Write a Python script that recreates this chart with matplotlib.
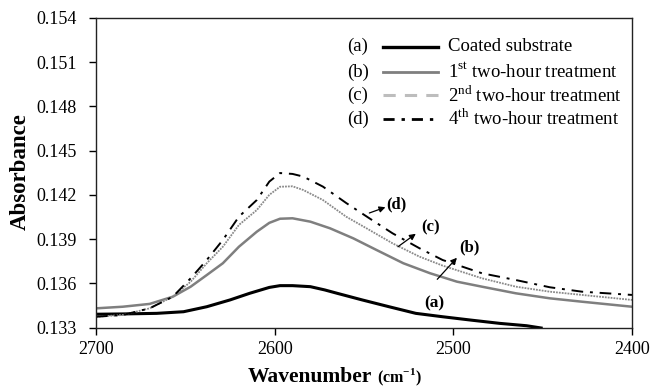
import matplotlib
matplotlib.use("Agg")
import matplotlib.pyplot as plt
from matplotlib.ticker import FixedLocator, FormatStrFormatter

plt.rcParams['font.family'] = ['Liberation Serif', 'DejaVu Serif']
plt.rcParams['mathtext.fontset'] = 'custom'
plt.rcParams['mathtext.rm'] = 'Liberation Serif'
plt.rcParams['mathtext.bf'] = 'Liberation Serif:bold'

# ---- data ----
wn_a = [2700, 2685, 2666, 2651, 2638, 2625, 2614, 2603, 2597, 2590, 2580, 2572,
        2565, 2551, 2536, 2521, 2506, 2490, 2474, 2459, 2450]
abs_a = [0.13390, 0.13392, 0.13396, 0.13407, 0.13441, 0.13487, 0.13532, 0.13572,
         0.13584, 0.13584, 0.13577, 0.13555, 0.13532, 0.13487, 0.13441, 0.13396,
         0.13373, 0.13350, 0.13328, 0.13312, 0.13295]

wn_b = [2700, 2685, 2670, 2657, 2647, 2638, 2629, 2620, 2610, 2603, 2597, 2590,
        2580, 2569, 2556, 2543, 2528, 2513, 2498, 2484, 2465, 2446, 2428, 2400]
abs_b = [0.13430, 0.13441, 0.13460, 0.13509, 0.13577, 0.13656, 0.13736, 0.13848,
         0.13950, 0.14010, 0.14038, 0.14041, 0.14018, 0.13973, 0.13905, 0.13826,
         0.13736, 0.13668, 0.13611, 0.13577, 0.13532, 0.13498, 0.13475, 0.13441]

wn_c = [2700, 2685, 2670, 2657, 2647, 2638, 2629, 2620, 2610, 2603, 2597, 2590,
        2584, 2573, 2560, 2547, 2534, 2519, 2506, 2484, 2465, 2446, 2428, 2400]
abs_c = [0.13373, 0.13385, 0.13430, 0.13509, 0.13611, 0.13736, 0.13848, 0.13996,
         0.14097, 0.14200, 0.14255, 0.14258, 0.14233, 0.14165, 0.14052, 0.13962,
         0.13871, 0.13781, 0.13720, 0.13634, 0.13577, 0.13543, 0.13521, 0.13487]

wn_d = [2700, 2685, 2670, 2657, 2647, 2638, 2629, 2620, 2610, 2603, 2597, 2590,
        2584, 2573, 2560, 2547, 2534, 2519, 2506, 2484, 2465, 2446, 2428, 2400]
abs_d = [0.13373, 0.13385, 0.13430, 0.13509, 0.13634, 0.13758, 0.13894, 0.14052,
         0.14165, 0.14290, 0.14348, 0.14342, 0.14324, 0.14256, 0.14145, 0.14041,
         0.13939, 0.13838, 0.13758, 0.13668, 0.13622, 0.13573, 0.13543, 0.13521]

x_ticks = [2700, 2600, 2500, 2400]
y_ticks = [0.133, 0.136, 0.139, 0.142, 0.145, 0.148, 0.151, 0.154]

legend_tags = ['(a)', '(b)', '(c)', '(d)']
legend_labels = ['Coated substrate',
                 '1$^{\\rm st}$ two-hour treatment',
                 '2$^{\\rm nd}$ two-hour treatment',
                 '4$^{\\rm th}$ two-hour treatment']

# annotation positions: (label, text xy, arrow tail, arrow head)
annots = [('(d)', (2532, 0.14132), (2547, 0.14077), (2538, 0.14116)),
          ('(c)', (2513, 0.13982), (2531, 0.13848), (2521, 0.13936)),
          ('(b)', (2491, 0.13846), (2509, 0.13627), (2498, 0.13773))]
annot_a = ('(a)', (2510.5, 0.13466))

# ---- figure ----
fig = plt.figure(figsize=(6.52, 3.90), dpi=100)
ax = fig.add_axes([96/652, 1 - 327.5/390, 536/652, 309.5/390])

st_a = dict(color='black', lw=2.2)
st_b = dict(color='#7f7f7f', lw=1.8)
st_c = dict(color='#8a8a8a', lw=1.3, ls=(0, (1, 0.6)))
st_d = dict(color='black', lw=1.4, ls=(0, (6, 3.5, 1.5, 3.5)))

ax.plot(wn_a, abs_a, **st_a, solid_capstyle='butt')
ax.plot(wn_b, abs_b, **st_b)
ax.plot(wn_c, abs_c, **st_c)
ax.plot(wn_d, abs_d, **st_d)

ax.set_xlim(2700, 2400)
ax.set_ylim(0.133, 0.154)
ax.xaxis.set_major_locator(FixedLocator(x_ticks))
ax.yaxis.set_major_locator(FixedLocator(y_ticks))
ax.yaxis.set_major_formatter(FormatStrFormatter('%.3f'))
ax.tick_params(direction='out', length=5, width=1, labelsize=13, color='black')
ax.tick_params(axis='x', pad=5)
ax.tick_params(axis='y', pad=9)
for s in ax.spines.values():
    s.set_linewidth(1.0)
    s.set_color('#222222')

# annotations
for lab, txy, tail, head in annots:
    ax.annotate('', xy=head, xytext=tail,
                arrowprops=dict(arrowstyle='-|>', color='black', lw=0.9,
                                mutation_scale=9, shrinkA=0, shrinkB=0))
    ax.text(txy[0], txy[1], lab, fontsize=12, fontweight='bold',
            ha='center', va='center')
ax.text(annot_a[1][0], annot_a[1][1], annot_a[0], fontsize=12.5, fontweight='bold',
        ha='center', va='center')

# legend (manual, no frame)
leg_styles = [dict(color='black', lw=2.4),
              dict(color='#7f7f7f', lw=2.0),
              dict(color='#bdbdbd', lw=2.2, ls=(0, (4, 3))),
              dict(color='black', lw=2.0, ls=(0, (4, 2.5, 1.2, 2.5)))]
row_y = [0.907, 0.826, 0.750, 0.674]
for tag, lab, st, yy in zip(legend_tags, legend_labels, leg_styles, row_y):
    ax.text(0.468, yy, tag, transform=ax.transAxes, fontsize=13.5,
            ha='left', va='center')
    ax.plot([0.536, 0.638], [yy, yy], transform=ax.transAxes, **st)
    ax.text(0.657, yy, lab, transform=ax.transAxes, fontsize=13.5,
            ha='left', va='center')

# axis labels
fig.text(20/652, 1 - 172/390, 'Absorbance', rotation=90, fontsize=16.5,
         fontweight='bold', ha='center', va='center')
fig.text(248/652, 1 - 377/390, 'Wavenumber', fontsize=15.5, fontweight='bold',
         ha='left', va='center')
fig.text(377/652, 1 - 377/390, '(cm$^{\\mathbf{-1}}$)', fontsize=11.5,
         fontweight='bold', ha='left', va='center')

fig.savefig('out.png', dpi=100)
